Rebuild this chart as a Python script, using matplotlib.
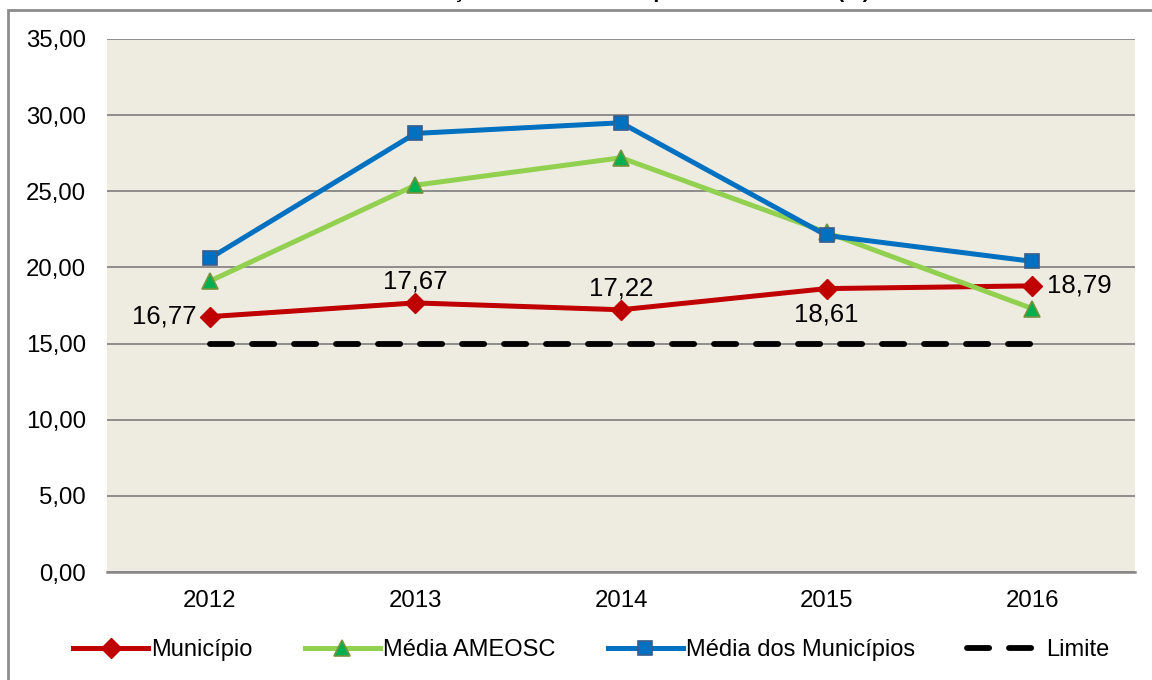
import matplotlib.pyplot as plt
from matplotlib.patches import Rectangle
from matplotlib.ticker import FuncFormatter

plt.rcParams['font.family'] = ['Liberation Sans', 'DejaVu Sans']

# dados
anos = ['2012', '2013', '2014', '2015', '2016']
municipio = [16.77, 17.67, 17.22, 18.61, 18.79]
media_ameosc = [19.1, 25.4, 27.2, 22.3, 17.3]
media_municipios = [20.6, 28.8, 29.5, 22.1, 20.4]
limite = [15, 15, 15, 15, 15]
titulo = 'Evolução do Percentual Aplicado em Saúde (%)'

fig = plt.figure(figsize=(11.52, 6.8), dpi=100)
ax = fig.add_axes([107 / 1152, 1 - 572 / 680, (1135 - 107) / 1152, (572 - 39) / 680])
ax.set_facecolor('#EEECE1')

x = range(len(anos))

ax.plot(x, municipio, color='#C00000', lw=3.6, marker='D', ms=10,
        mfc='#C00000', mec='#C00000', label='Município', zorder=3)
ax.plot(x, media_ameosc, color='#92D050', lw=3.6, marker='^', ms=12,
        mfc='#00B050', mec='#77933C', mew=1.2, label='Média AMEOSC', zorder=3)
ax.plot(x, media_municipios, color='#0070C0', lw=3.6, marker='s', ms=10.5,
        mfc='#0070C0', mec='#385D8A', mew=1.2, label='Média dos Municípios', zorder=3)
ax.plot(x, limite, color='black', lw=4.2, ls=(0, (3.8, 3.4)),
        dash_capstyle='round', label='Limite', zorder=3)

# rótulos dos valores do município
offsets = [(-13, 0, 'right', 'center'), (0, 9, 'center', 'bottom'),
           (0, 9, 'center', 'bottom'), (0, -14, 'center', 'top'),
           (15, 0, 'left', 'center')]
for i, v in enumerate(municipio):
    dx, dy, ha, va = offsets[i]
    ax.annotate(f'{v:.2f}'.replace('.', ','), (i, v), xytext=(dx, dy),
                textcoords='offset pixels', ha=ha, va=va, fontsize=18.5)

ax.set_xlim(-0.5, 4.5)
ax.set_ylim(0, 35)
ax.set_yticks(range(0, 36, 5))
ax.yaxis.set_major_formatter(FuncFormatter(lambda v, p: f'{v:.2f}'.replace('.', ',')))
ax.set_xticks(list(x))
ax.set_xticklabels(anos)
ax.tick_params(axis='y', length=0, pad=15, labelsize=17.3)
ax.tick_params(axis='x', length=0, pad=13, labelsize=17.3)
ax.grid(axis='y', color='#868686', lw=1.3, zorder=1)
ax.set_axisbelow(True)
for s in ['left', 'right', 'top']:
    ax.spines[s].set_visible(False)
ax.spines['bottom'].set_color('#868686')
ax.spines['bottom'].set_linewidth(1.8)

ax.legend(loc='center', bbox_to_anchor=(591 / 1152, 1 - 650 / 680),
          bbox_transform=fig.transFigure, ncol=4, frameon=False, fontsize=17,
          handlelength=3.2, handletextpad=0.13, columnspacing=2.2)

# moldura do gráfico
fig.patches.append(Rectangle((8 / 1152, -0.1), 1.2, 1 - 10 / 680 + 0.1,
                             transform=fig.transFigure, fill=False,
                             edgecolor='#8C8C8C', lw=2))

# título cortado no topo
fig.text(870 / 1152, 1 + 2 / 680, titulo, ha='right', va='baseline',
         fontsize=15, fontweight='bold')

fig.savefig('out.png', dpi=100)
